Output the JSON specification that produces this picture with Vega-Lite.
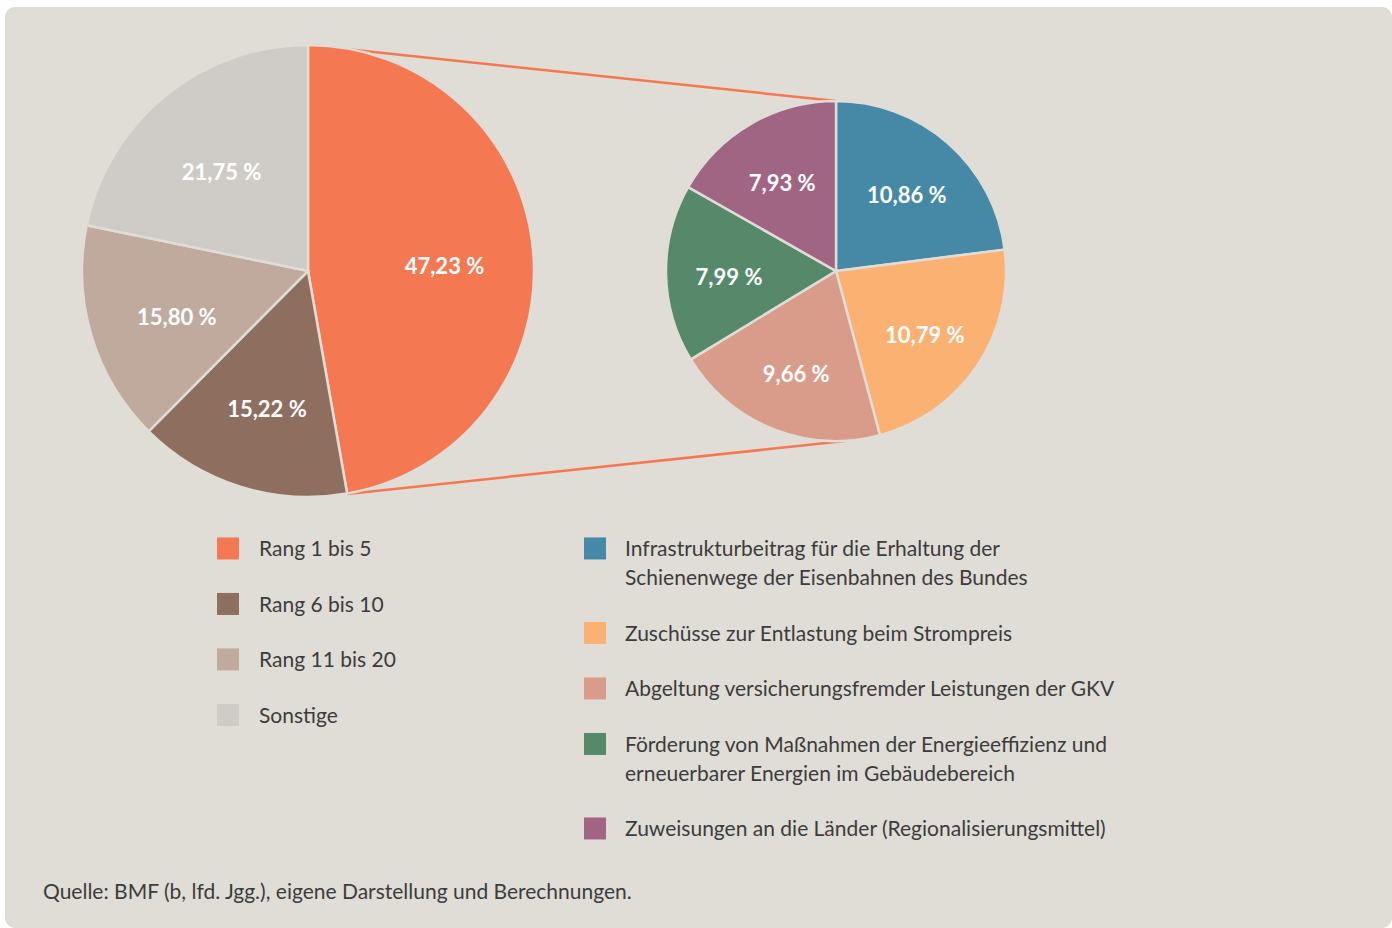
{
  "$schema": "https://vega.github.io/schema/vega-lite/v6.json",
  "width": 1387,
  "height": 921,
  "autosize": {"type": "none"},
  "padding": {"left": 5, "top": 7, "right": 0, "bottom": 0},
  "background": "#ffffff",
  "datasets": {
    "gesamt": [
      {"gruppe": "Rang 1 bis 5", "anteil": 47.23},
      {"gruppe": "Rang 6 bis 10", "anteil": 15.22},
      {"gruppe": "Rang 11 bis 20", "anteil": 15.80},
      {"gruppe": "Sonstige", "anteil": 21.75}
    ],
    "top5": [
      {"posten": "Infrastrukturbeitrag für die Erhaltung der Schienenwege der Eisenbahnen des Bundes", "anteil": 10.86},
      {"posten": "Zuschüsse zur Entlastung beim Strompreis", "anteil": 10.79},
      {"posten": "Abgeltung versicherungsfremder Leistungen der GKV", "anteil": 9.66},
      {"posten": "Förderung von Maßnahmen der Energieeffizienz und erneuerbarer Energien im Gebäudebereich", "anteil": 7.99},
      {"posten": "Zuweisungen an die Länder (Regionalisierungsmittel)", "anteil": 7.93}
    ]
  },
  "title": {
    "text": "Quelle: BMF (b, lfd. Jgg.), eigene Darstellung und Berechnungen.",
    "orient": "bottom",
    "anchor": "start",
    "frame": "group",
    "offset": -46,
    "dx": 38,
    "font": "Lato",
    "fontSize": 21,
    "fontWeight": "normal",
    "color": "#3c3c3c",
    "baseline": "top"
  },
  "layer": [
    {
      "data": {"values": [{}]},
      "mark": {"type": "rule", "color": "#f47852", "strokeWidth": 2.5},
      "encoding": {
        "x": {"datum": 308, "type": "quantitative", "scale": {"domain": [5, 1392], "nice": false, "zero": false}, "axis": null},
        "y": {"datum": 45, "type": "quantitative", "scale": {"domain": [928, 7], "nice": false, "zero": false}, "axis": null},
        "x2": {"datum": 836},
        "y2": {"datum": 101}
      }
    },
    {
      "data": {"values": [{}]},
      "mark": {"type": "rule", "color": "#f47852", "strokeWidth": 2.5},
      "encoding": {
        "x": {"datum": 347, "type": "quantitative", "scale": {"domain": [5, 1392], "nice": false, "zero": false}, "axis": null},
        "y": {"datum": 494, "type": "quantitative", "scale": {"domain": [928, 7], "nice": false, "zero": false}, "axis": null},
        "x2": {"datum": 845},
        "y2": {"datum": 441}
      }
    },
    {
      "data": {"name": "gesamt"},
      "transform": [{"window": [{"op": "row_number", "as": "nr"}]}],
      "mark": {"type": "arc", "radius": 226, "stroke": "#e0dcd6", "strokeWidth": 2.5},
      "encoding": {
        "x": {"datum": 308, "type": "quantitative", "scale": {"domain": [5, 1392], "nice": false, "zero": false}, "axis": null},
        "y": {"datum": 271, "type": "quantitative", "scale": {"domain": [928, 7], "nice": false, "zero": false}, "axis": null},
        "theta": {"field": "anteil", "type": "quantitative", "stack": true},
        "order": {"field": "nr", "type": "quantitative"},
        "color": {
          "field": "gruppe",
          "type": "nominal",
          "scale": {
            "domain": ["Rang 1 bis 5", "Rang 6 bis 10", "Rang 11 bis 20", "Sonstige"],
            "range": ["#f47852", "#8e6e5f", "#c0aa9e", "#cfccc7"]
          },
          "legend": {
            "orient": "none",
            "legendX": 212,
            "legendY": 521,
            "title": null,
            "padding": 0,
            "symbolType": "M-1,-0.14H1V1.86H-1Z",
            "symbolSize": 484,
            "symbolStrokeWidth": 0,
            "labelFont": "Lato",
            "labelFontSize": 21,
            "labelColor": "#3c3c3c",
            "labelOffset": 20,
            "labelBaseline": "top",
            "labelLimit": 0,
            "rowPadding": 23.5
          }
        }
      }
    },
    {
      "data": {"name": "gesamt"},
      "transform": [
        {"window": [{"op": "row_number", "as": "nr"}]},
        {"calculate": "replace(format(datum.anteil, '.2f'), '.', ',') + ' %'", "as": "beschriftung"}
      ],
      "mark": {"type": "text", "radius": 137, "dy": 8, "color": "#ffffff", "font": "Lato", "fontWeight": "bold", "fontSize": 22, "align": "center", "baseline": "middle"},
      "encoding": {
        "x": {"datum": 308, "type": "quantitative", "scale": {"domain": [5, 1392], "nice": false, "zero": false}, "axis": null},
        "y": {"datum": 271, "type": "quantitative", "scale": {"domain": [928, 7], "nice": false, "zero": false}, "axis": null},
        "theta": {"field": "anteil", "type": "quantitative", "stack": true},
        "order": {"field": "nr", "type": "quantitative"},
        "text": {"field": "beschriftung", "type": "nominal"}
      }
    },
    {
      "data": {"name": "top5"},
      "transform": [{"window": [{"op": "row_number", "as": "nr"}]}],
      "mark": {"type": "arc", "radius": 170, "stroke": "#e0dcd6", "strokeWidth": 2.5},
      "encoding": {
        "x": {"datum": 836, "type": "quantitative", "scale": {"domain": [5, 1392], "nice": false, "zero": false}, "axis": null},
        "y": {"datum": 271, "type": "quantitative", "scale": {"domain": [928, 7], "nice": false, "zero": false}, "axis": null},
        "theta": {"field": "anteil", "type": "quantitative", "stack": true},
        "order": {"field": "nr", "type": "quantitative"},
        "color": {
          "field": "posten",
          "type": "nominal",
          "scale": {
            "domain": [
              "Infrastrukturbeitrag für die Erhaltung der Schienenwege der Eisenbahnen des Bundes",
              "Zuschüsse zur Entlastung beim Strompreis",
              "Abgeltung versicherungsfremder Leistungen der GKV",
              "Förderung von Maßnahmen der Energieeffizienz und erneuerbarer Energien im Gebäudebereich",
              "Zuweisungen an die Länder (Regionalisierungsmittel)"
            ],
            "range": ["#4589a7", "#fbb171", "#d99c8b", "#558969", "#a16584"]
          },
          "legend": {
            "orient": "none",
            "legendX": 579,
            "legendY": 521,
            "title": null,
            "padding": 0,
            "symbolType": "M-1,-0.14H1V1.86H-1Z",
            "symbolSize": 484,
            "symbolStrokeWidth": 0,
            "labelFont": "Lato",
            "labelFontSize": 21,
            "labelColor": "#3c3c3c",
            "labelOffset": 19,
            "labelBaseline": "top",
            "labelLimit": 0,
            "rowPadding": 23.5,
            "labelExpr": "split(replace(replace(datum.label, ' der Schienenwege', ' der|Schienenwege'), ' und erneuerbarer', ' und|erneuerbarer'), '|')"
          }
        }
      }
    },
    {
      "data": {"name": "top5"},
      "transform": [
        {"window": [{"op": "row_number", "as": "nr"}]},
        {"calculate": "replace(format(datum.anteil, '.2f'), '.', ',') + ' %'", "as": "beschriftung"}
      ],
      "mark": {"type": "text", "radius": 107, "dy": 5, "color": "#ffffff", "font": "Lato", "fontWeight": "bold", "fontSize": 22, "align": "center", "baseline": "middle"},
      "encoding": {
        "x": {"datum": 836, "type": "quantitative", "scale": {"domain": [5, 1392], "nice": false, "zero": false}, "axis": null},
        "y": {"datum": 271, "type": "quantitative", "scale": {"domain": [928, 7], "nice": false, "zero": false}, "axis": null},
        "theta": {"field": "anteil", "type": "quantitative", "stack": true},
        "order": {"field": "nr", "type": "quantitative"},
        "text": {"field": "beschriftung", "type": "nominal"}
      }
    }
  ],
  "resolve": {
    "scale": {"theta": "independent", "color": "independent"},
    "legend": {"color": "independent"}
  },
  "config": {
    "view": {"fill": "#e0dcd6", "stroke": null, "cornerRadius": 10},
    "style": {"guide-label": {"lineHeight": 29}}
  }
}
